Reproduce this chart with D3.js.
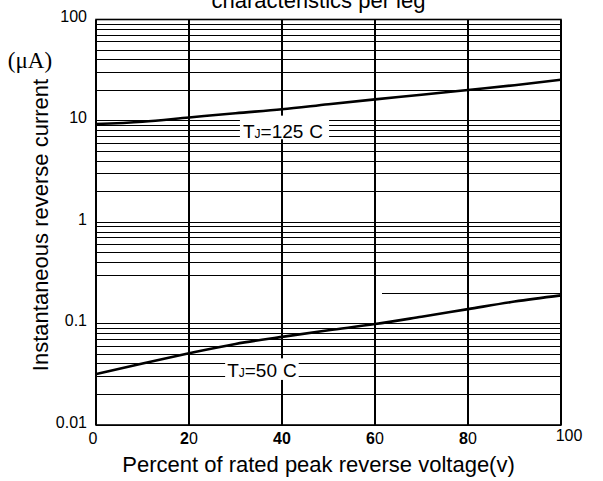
<!DOCTYPE html>
<html>
<head>
<meta charset="utf-8">
<script src="https://cdn.jsdelivr.net/npm/d3@7"></script>
<style>
  body { margin: 0; background: #fff; }
  svg { display: block; font-family: Arial, "Liberation Sans", sans-serif; }
</style>
</head>
<body>
<svg width="603" height="481"></svg>
<script>
// reverse leakage vs percent of rated voltage
const pct = [0, 10, 20, 30, 40, 50, 60, 70, 80, 90, 100];
const iTj125 = [9.3, 9.8, 10.8, 11.9, 13.0, 14.6, 16.3, 18.1, 20.2, 22.5, 25.5];
const iTj50 = [0.0318, 0.0405, 0.051, 0.063, 0.074, 0.086, 0.099, 0.117, 0.139, 0.165, 0.19];

const xTicks = [0, 20, 40, 60, 80, 100];
// scanned sheet prints some digits bold: [bold part, plain part]
const xTickText = [['', '0'], ['2', '0'], ['40', ''], ['6', '0'], ['8', '0'], ['', '100']];
const yTicks = [100, 10, 1, 0.1, 0.01];
const yTickText = ['100', '10', '1', '0.1', '0.01'];

const series = [
  { temp: '125', values: iTj125 },
  { temp: '50', values: iTj50 },
];

const width = 603, height = 481;
const margin = { top: 19.5, right: 42, bottom: 56, left: 96 };

const svg = d3.select('svg');

const x = d3.scaleLinear().domain([0, 100]).range([margin.left, width - margin.right]);
const y = d3.scaleLog().domain([0.01, 100]).range([height - margin.bottom, margin.top]);

// log grid
const minor = [];
[0.01, 0.1, 1, 10].forEach(dec => {
  for (let k = 2; k <= 9; k++) minor.push(+(dec * k).toPrecision(3));
});
const fullLines = minor.filter(v => v !== 0.2).concat(yTicks);

const grid = svg.append('g').attr('stroke', '#000').attr('shape-rendering', 'crispEdges');

grid.selectAll('.hline')
  .data(fullLines)
  .enter()
  .append('line')
  .attr('x1', x(0))
  .attr('x2', x(100))
  .attr('y1', d => y(d))
  .attr('y2', d => y(d))
  .attr('stroke-width', 1);

// the 0.2 line is only half drawn on the original
grid.append('line')
  .attr('x1', x(61.5))
  .attr('x2', x(100))
  .attr('y1', y(0.2))
  .attr('y2', y(0.2));

grid.selectAll('.vline')
  .data(xTicks)
  .enter()
  .append('line')
  .attr('x1', d => x(d))
  .attr('x2', d => x(d))
  .attr('y1', y(100))
  .attr('y2', y(0.01))
  .attr('stroke-width', 1.2);

svg.append('rect')
  .attr('x', x(0))
  .attr('y', y(100))
  .attr('width', x(100) - x(0))
  .attr('height', y(0.01) - y(100))
  .attr('fill', 'none')
  .attr('stroke', '#000')
  .attr('stroke-width', 1.6);

// curves
const line = d3.line()
  .x((d, i) => x(pct[i]))
  .y(d => y(d))
  .curve(d3.curveMonotoneX);

svg.selectAll('.curve')
  .data(series)
  .enter()
  .append('path')
  .attr('d', d => line(d.values))
  .attr('fill', 'none')
  .attr('stroke', '#000')
  .attr('stroke-width', 2.6);

// curve labels with white knock-out boxes
const labels = [
  { temp: '125', at: [31.6, 6.74], pad: [3, 6, 9, 1] },
  { temp: '50', at: [28.2, 0.0298], pad: [2, 2, 5, 3] },
];

labels.forEach(l => {
  const g = svg.append('g');
  const box = g.append('rect').attr('fill', '#fff');
  const t = g.append('text')
    .attr('x', x(l.at[0]))
    .attr('y', y(l.at[1]))
    .attr('font-size', 19)
    .attr('fill', '#000');
  t.append('tspan').text('T');
  t.append('tspan').attr('font-size', 12).text('J');
  t.append('tspan').text('=' + l.temp);
  t.append('tspan').attr('dx', 6).text('C');
  const b = t.node().getBBox();
  const capTop = y(l.at[1]) - 19 * 0.716;
  box.attr('x', b.x - l.pad[0])
    .attr('y', capTop - l.pad[2])
    .attr('width', b.width + l.pad[0] + l.pad[1])
    .attr('height', y(l.at[1]) - capTop + l.pad[2] + l.pad[3]);
});

// y tick labels
svg.selectAll('.ylab')
  .data(yTicks)
  .enter()
  .append('text')
  .attr('x', 87)
  .attr('y', d => y(d) + 2.5)
  .attr('text-anchor', 'end')
  .attr('font-size', 16)
  .text((d, i) => yTickText[i]);

// x tick labels
const xl = svg.selectAll('.xlab')
  .data(xTicks)
  .enter()
  .append('text')
  .attr('x', d => x(d) + (d === 0 ? -3 : d === 100 ? 8 : 0))
  .attr('y', d => (d === 100 ? 441 : 444))
  .attr('text-anchor', 'middle')
  .attr('font-size', 16);
xl.append('tspan').attr('font-weight', 'bold').text((d, i) => xTickText[i][0]);
xl.append('tspan').text((d, i) => xTickText[i][1]);

// titles
svg.append('text')
  .attr('x', 318.5)
  .attr('y', 7.5)
  .attr('text-anchor', 'middle')
  .attr('font-size', 22)
  .text('characteristics per leg');

svg.append('text')
  .attr('x', 318.5)
  .attr('y', 471.5)
  .attr('text-anchor', 'middle')
  .attr('font-size', 22)
  .text('Percent of rated peak reverse voltage(v)');

svg.append('text')
  .attr('transform', 'translate(48,225) rotate(-90)')
  .attr('text-anchor', 'middle')
  .attr('font-size', 22)
  .text('Instantaneous reverse current');

svg.append('text')
  .attr('x', 30)
  .attr('y', 68)
  .attr('text-anchor', 'middle')
  .attr('font-family', '"Liberation Serif", "DejaVu Serif", serif')
  .attr('font-size', 23)
  .text('(\u03bcA)');
</script>
</body>
</html>
